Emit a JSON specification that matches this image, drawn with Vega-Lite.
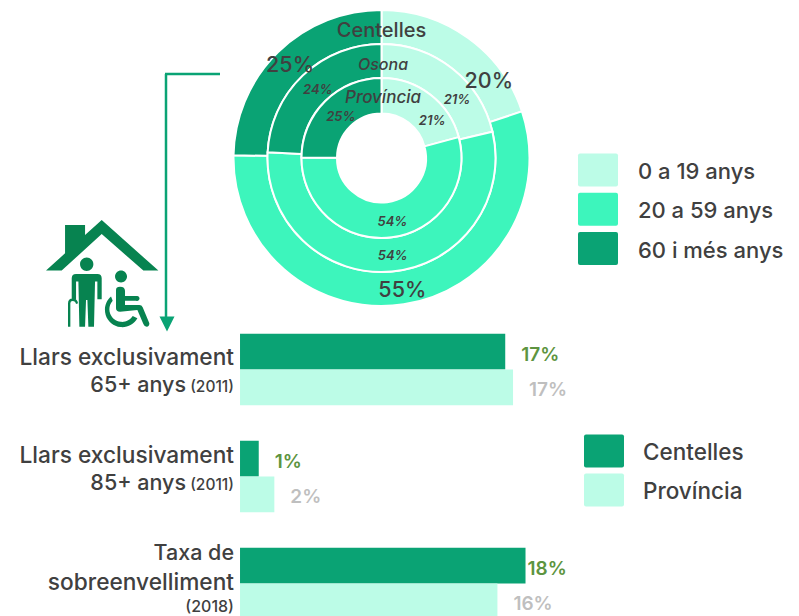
{
"$schema":"https://vega.github.io/schema/vega-lite/v6.json",
"padding":0,
"background":"white",
"spacing":0,
"bounds":"flush",
"resolve":{"scale":{"color":"independent","x":"independent","y":"independent"}},
"config":{"view":{"stroke":null},"text":{"font":"Inter","fontWeight":500,"color":"#404040"},"legend":{"labelFont":"Inter","labelFontWeight":500,"labelFontSize":22,"labelColor":"#404040","labelOffset":20,"rowPadding":4.3,"padding":0,"symbolStrokeWidth":0,"symbolSize":1600,"symbolType":"M-1 -.825 Q-1 -.925 -.9 -.925 L.9 -.925 Q1 -.925 1 -.825 L1 .625 Q1 .725 .9 .725 L-.9 .725 Q-1 .725 -1 .625 Z","title":null}},
"datasets":{
"anells":[
{"anell":"Centelles","edat":"0 a 19 anys","o":1,"v":19.9,"lab":"20%"},
{"anell":"Centelles","edat":"20 a 59 anys","o":2,"v":55.4,"lab":"55%"},
{"anell":"Centelles","edat":"60 i més anys","o":3,"v":24.7,"lab":"25%"},
{"anell":"Osona","edat":"0 a 19 anys","o":1,"v":21.3,"lab":"21%"},
{"anell":"Osona","edat":"20 a 59 anys","o":2,"v":54.5,"lab":"54%"},
{"anell":"Osona","edat":"60 i més anys","o":3,"v":24.2,"lab":"24%"},
{"anell":"Província","edat":"0 a 19 anys","o":1,"v":20.8,"lab":"21%"},
{"anell":"Província","edat":"20 a 59 anys","o":2,"v":54.3,"lab":"54%"},
{"anell":"Província","edat":"60 i més anys","o":3,"v":24.9,"lab":"25%"}
],
"barres":[
{"cat":"Llars exclusivament 65+ anys","serie":"Centelles","v":17.0,"lab":"17%"},
{"cat":"Llars exclusivament 65+ anys","serie":"Província","v":17.5,"lab":"17%"},
{"cat":"Llars exclusivament 85+ anys","serie":"Centelles","v":1.2,"lab":"1%"},
{"cat":"Llars exclusivament 85+ anys","serie":"Província","v":2.2,"lab":"2%"},
{"cat":"Taxa de sobreenvelliment","serie":"Centelles","v":18.3,"lab":"18%"},
{"cat":"Taxa de sobreenvelliment","serie":"Província","v":16.5,"lab":"16%"}
],
"etiquetes":[
{"id":"a1","cat":"Llars exclusivament 65+ anys","t":"Llars exclusivament"},
{"id":"a2","cat":"Llars exclusivament 65+ anys","t":"65+ anys"},
{"id":"a3","cat":"Llars exclusivament 65+ anys","t":"(2011)"},
{"id":"b1","cat":"Llars exclusivament 85+ anys","t":"Llars exclusivament"},
{"id":"b2","cat":"Llars exclusivament 85+ anys","t":"85+ anys"},
{"id":"b3","cat":"Llars exclusivament 85+ anys","t":"(2011)"},
{"id":"c1","cat":"Taxa de sobreenvelliment","t":"Taxa de"},
{"id":"c2","cat":"Taxa de sobreenvelliment","t":"sobreenvelliment"},
{"id":"c3","cat":"Taxa de sobreenvelliment","t":"(2018)"}
],
"nota":[{"k":1}]
},
"vconcat":[
{
"width":763,"height":316,
"data":{"name":"anells"},
"layer":[
{"transform":[{"filter":"datum.anell=='Centelles'"}],"mark":{"type":"arc","radius":148,"radius2":114,"stroke":"white","strokeWidth":2},
"encoding":{"theta":{"field":"v","type":"quantitative","stack":true,"scale":{"domain":[0,100]}},"order":{"field":"o"},"color":{"field":"edat","type":"nominal","scale":{"domain":["0 a 19 anys","20 a 59 anys","60 i més anys"],"range":["#bcfce7","#3df5bc","#0aa374"]},"legend":{"orient":"none","legendX":578,"legendY":152}}}},
{"transform":[{"filter":"datum.anell=='Osona'"}],"mark":{"type":"arc","radius":114,"radius2":80,"stroke":"white","strokeWidth":2},
"encoding":{"theta":{"field":"v","type":"quantitative","stack":true,"scale":{"domain":[0,100]}},"order":{"field":"o"},"color":{"field":"edat","type":"nominal"}}},
{"transform":[{"filter":"datum.anell=='Província'"}],"mark":{"type":"arc","radius":80,"radius2":44.5,"stroke":"white","strokeWidth":2},
"encoding":{"theta":{"field":"v","type":"quantitative","stack":true,"scale":{"domain":[0,100]}},"order":{"field":"o"},"color":{"field":"edat","type":"nominal"}}},
{"transform":[{"filter":"datum.anell=='Centelles'"}],"mark":{"type":"text","radius":132,"fontSize":21.5,"dx":1,"dy":2.5},
"encoding":{"theta":{"field":"v","type":"quantitative","stack":true},"order":{"field":"o"},"detail":{"field":"edat"},"text":{"condition":{"test":"datum.o==1","value":""},"field":"lab"}}},
{"transform":[{"filter":"datum.anell=='Centelles'"}],"mark":{"type":"text","radius":132,"fontSize":21.5,"dx":30,"dy":31},
"encoding":{"theta":{"field":"v","type":"quantitative","stack":true},"order":{"field":"o"},"detail":{"field":"edat"},"text":{"condition":{"test":"datum.o!=1","value":""},"field":"lab"}}},
{"transform":[{"filter":"datum.anell=='Osona'"}],"mark":{"type":"text","radius":96,"fontSize":13,"fontStyle":"italic","fontWeight":600,"dx":2.5,"dy":2},
"encoding":{"theta":{"field":"v","type":"quantitative","stack":true},"order":{"field":"o"},"detail":{"field":"edat"},"text":{"condition":{"test":"datum.o==1","value":""},"field":"lab"}}},
{"transform":[{"filter":"datum.anell=='Osona'"}],"mark":{"type":"text","radius":96,"fontSize":13,"fontStyle":"italic","fontWeight":600,"dx":16,"dy":17},
"encoding":{"theta":{"field":"v","type":"quantitative","stack":true},"order":{"field":"o"},"detail":{"field":"edat"},"text":{"condition":{"test":"datum.o!=1","value":""},"field":"lab"}}},
{"transform":[{"filter":"datum.anell=='Província'"}],"mark":{"type":"text","radius":62,"fontSize":13,"fontStyle":"italic","fontWeight":600,"dx":3,"dy":2.5},
"encoding":{"theta":{"field":"v","type":"quantitative","stack":true},"order":{"field":"o"},"detail":{"field":"edat"},"text":{"condition":{"test":"datum.o==1","value":""},"field":"lab"}}},
{"transform":[{"filter":"datum.anell=='Província'"}],"mark":{"type":"text","radius":62,"fontSize":13,"fontStyle":"italic","fontWeight":600,"dx":13,"dy":12},
"encoding":{"theta":{"field":"v","type":"quantitative","stack":true},"order":{"field":"o"},"detail":{"field":"edat"},"text":{"condition":{"test":"datum.o!=1","value":""},"field":"lab"}}},
{"data":{"name":"nota"},"mark":{"type":"text","fontSize":20},"encoding":{"x":{"datum":381.5,"type":"quantitative","scale":{"domain":[0,763],"nice":false},"axis":null},"y":{"datum":31,"type":"quantitative","scale":{"domain":[316,0],"nice":false},"axis":null},"text":{"value":"Centelles"}}},
{"data":{"name":"nota"},"mark":{"type":"text","fontSize":16,"fontStyle":"italic"},"encoding":{"x":{"datum":383,"type":"quantitative"},"y":{"datum":65,"type":"quantitative"},"text":{"value":"Osona"}}},
{"data":{"name":"nota"},"mark":{"type":"text","fontSize":17,"fontStyle":"italic"},"encoding":{"x":{"datum":383,"type":"quantitative"},"y":{"datum":98,"type":"quantitative"},"text":{"value":"Província"}}},
{"data":{"name":"nota"},"mark":{"type":"rule","color":"#0aa374","strokeWidth":2.5},"encoding":{"x":{"datum":165,"type":"quantitative"},"x2":{"datum":220},"y":{"datum":74,"type":"quantitative"}}},
{"data":{"name":"nota"},"mark":{"type":"rule","color":"#0aa374","strokeWidth":2.5},"encoding":{"x":{"datum":166,"type":"quantitative"},"y":{"datum":74,"type":"quantitative"},"y2":{"datum":318}}},
{"data":{"name":"nota"},"mark":{"type":"point","filled":true,"color":"#0aa374","opacity":1,"strokeWidth":0,"size":225,"shape":"M-1 -1 L1 -1 L0 1 Z"},"encoding":{"x":{"datum":167,"type":"quantitative"},"y":{"datum":324,"type":"quantitative"}}},
{"data":{"name":"nota"},"mark":{"type":"point","filled":true,"color":"#078350","opacity":1,"strokeWidth":0,"size":12996,"shape":"M-.643 -.848 L-.292 -.848 L-.292 -.673 L0 -.936 L.994 -.047 L.731 -.047 L0 -.69 L-.702 -.047 L-.977 -.047 L-.643 -.351 Z M-.38 -.158 A.117 .117 0 1 1 -.146 -.158 A.117 .117 0 1 1 -.38 -.158 Z M-.526 .088 Q-.526 .012 -.45 .012 L-.076 .012 Q0 .012 0 .088 L0 .456 L-.076 .456 L-.076 .146 L-.117 .146 L-.135 .936 L-.234 .936 L-.251 .468 L-.275 .468 L-.292 .936 L-.392 .936 L-.409 .146 L-.45 .146 L-.45 .456 L-.526 .456 Z M-.591 .936 L-.591 .526 Q-.591 .444 -.509 .444 Q-.427 .444 -.415 .526 L-.45 .538 Q-.462 .485 -.509 .485 Q-.55 .485 -.55 .526 L-.55 .936 Z M.234 .058 A.105 .105 0 1 1 .444 .058 A.105 .105 0 1 1 .234 .058 Z M.251 .292 Q.251 .234 .322 .234 Q.409 .234 .409 .31 L.409 .398 L.626 .398 Q.673 .409 .661 .456 Q.643 .497 .602 .48 L.409 .48 L.409 .556 L.661 .556 Q.702 .556 .719 .596 L.836 .877 Q.836 .936 .789 .936 Q.749 .936 .731 .889 L.626 .643 L.322 .673 Q.251 .673 .251 .614 Z M.164 .409 A.304 .304 0 1 0 .626 .789 L.544 .749 A.222 .222 0 1 1 .193 .48 Z"},"encoding":{"x":{"datum":101.7,"type":"quantitative"},"y":{"datum":273.3,"type":"quantitative"}}}
]
},
{
"width":799,"height":300,
"layer":[
{"data":{"name":"barres"},"mark":{"type":"bar","clip":true},
"encoding":{
"y":{"field":"cat","type":"nominal","axis":null,"scale":{"domain":["Llars exclusivament 65+ anys","Llars exclusivament 85+ anys","Taxa de sobreenvelliment"],"range":[0,321],"paddingInner":0,"paddingOuter":0}},
"yOffset":{"field":"serie","type":"nominal","scale":{"domain":["Centelles","Província"],"paddingInner":0,"paddingOuter":0.5}},
"x":{"field":"v","type":"quantitative","stack":null,"axis":null,"scale":{"domain":[-15.385,35.83],"nice":false}},
"color":{"field":"serie","type":"nominal","scale":{"domain":["Centelles","Província"],"range":["#0aa374","#bcfce7"]},"legend":{"orient":"none","legendX":584,"legendY":117,"labelOffset":19,"labelFontSize":22.5,"rowPadding":4}}
}},
{"data":{"name":"barres"},"transform":[{"filter":"datum.serie=='Centelles' && datum.v<18"}],"mark":{"type":"text","align":"left","dx":16,"dy":3,"fontSize":19,"fontWeight":600,"color":"#5d9440"},
"encoding":{"y":{"field":"cat","type":"nominal"},"yOffset":{"field":"serie","type":"nominal"},"x":{"field":"v","type":"quantitative"},"text":{"field":"lab"}}},
{"data":{"name":"barres"},"transform":[{"filter":"datum.serie=='Centelles' && datum.v>18"}],"mark":{"type":"text","align":"left","dx":2,"dy":3,"fontSize":19,"fontWeight":600,"color":"#5d9440"},
"encoding":{"y":{"field":"cat","type":"nominal"},"yOffset":{"field":"serie","type":"nominal"},"x":{"field":"v","type":"quantitative"},"text":{"field":"lab"}}},
{"data":{"name":"barres"},"transform":[{"filter":"datum.serie=='Província'"}],"mark":{"type":"text","align":"left","dx":16,"dy":3,"fontSize":19,"fontWeight":600,"color":"#bfbfbf"},
"encoding":{"y":{"field":"cat","type":"nominal"},"yOffset":{"field":"serie","type":"nominal"},"x":{"field":"v","type":"quantitative"},"text":{"field":"lab"}}},
{"data":{"name":"etiquetes"},"transform":[{"filter":"datum.id=='a1'"}],"mark":{"type":"text","align":"right","dx":-6,"dy":-11.5,"fontSize":22.7},"encoding":{"y":{"field":"cat","type":"nominal"},"x":{"datum":0,"type":"quantitative"},"text":{"field":"t"}}},
{"data":{"name":"etiquetes"},"transform":[{"filter":"datum.id=='a2'"}],"mark":{"type":"text","align":"right","dx":-54,"dy":16.5,"fontSize":21.5},"encoding":{"y":{"field":"cat","type":"nominal"},"x":{"datum":0,"type":"quantitative"},"text":{"field":"t"}}},
{"data":{"name":"etiquetes"},"transform":[{"filter":"datum.id=='a3'"}],"mark":{"type":"text","align":"right","dx":-6,"dy":17.5,"fontSize":15.5},"encoding":{"y":{"field":"cat","type":"nominal"},"x":{"datum":0,"type":"quantitative"},"text":{"field":"t"}}},
{"data":{"name":"etiquetes"},"transform":[{"filter":"datum.id=='b1'"}],"mark":{"type":"text","align":"right","dx":-6,"dy":-20.5,"fontSize":22.7},"encoding":{"y":{"field":"cat","type":"nominal"},"x":{"datum":0,"type":"quantitative"},"text":{"field":"t"}}},
{"data":{"name":"etiquetes"},"transform":[{"filter":"datum.id=='b2'"}],"mark":{"type":"text","align":"right","dx":-54,"dy":7.5,"fontSize":21.5},"encoding":{"y":{"field":"cat","type":"nominal"},"x":{"datum":0,"type":"quantitative"},"text":{"field":"t"}}},
{"data":{"name":"etiquetes"},"transform":[{"filter":"datum.id=='b3'"}],"mark":{"type":"text","align":"right","dx":-6,"dy":8.5,"fontSize":15.5},"encoding":{"y":{"field":"cat","type":"nominal"},"x":{"datum":0,"type":"quantitative"},"text":{"field":"t"}}},
{"data":{"name":"etiquetes"},"transform":[{"filter":"datum.id=='c1'"}],"mark":{"type":"text","align":"right","dx":-6,"dy":-29.5,"fontSize":21.5},"encoding":{"y":{"field":"cat","type":"nominal"},"x":{"datum":0,"type":"quantitative"},"text":{"field":"t"}}},
{"data":{"name":"etiquetes"},"transform":[{"filter":"datum.id=='c2'"}],"mark":{"type":"text","align":"right","dx":-6,"dy":-0.5,"fontSize":22.7},"encoding":{"y":{"field":"cat","type":"nominal"},"x":{"datum":0,"type":"quantitative"},"text":{"field":"t"}}},
{"data":{"name":"etiquetes"},"transform":[{"filter":"datum.id=='c3'"}],"mark":{"type":"text","align":"right","dx":-6,"dy":23,"fontSize":16},"encoding":{"y":{"field":"cat","type":"nominal"},"x":{"datum":0,"type":"quantitative"},"text":{"field":"t"}}}
]
}
]
}
